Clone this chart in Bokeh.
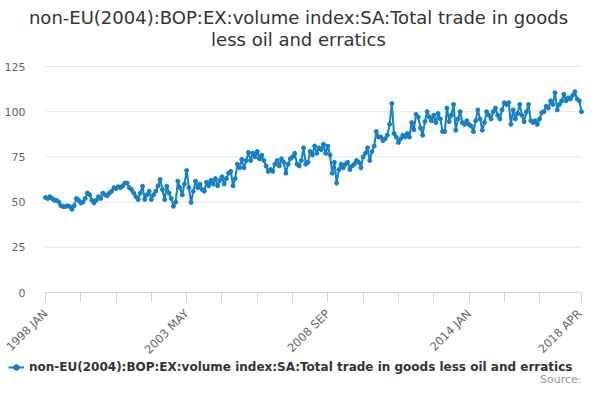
import math
from bokeh.plotting import figure
from bokeh.models import (FixedTicker, Legend, LegendItem, Range1d, Label,
                          LinearAxis)
from bokeh.embed import file_html
from bokeh.resources import INLINE

MONTHS = ["JAN", "FEB", "MAR", "APR", "MAY", "JUN",
          "JUL", "AUG", "SEP", "OCT", "NOV", "DEC"]

v1998 = [52.5, 52, 53, 52, 51, 51, 50, 48, 47.5, 47.5, 48, 47.5]
v1999 = [46, 48, 52, 51, 49.5, 50, 52, 55, 54, 51, 49.5, 51]
v2000 = [53, 52, 55, 54, 53.5, 55, 56, 58, 57.5, 58.5, 58, 59]
v2001 = [60.5, 60.5, 58, 57, 55, 53, 51.4, 55, 58.8, 51.5, 54, 56]
v2002 = [51.4, 54, 56, 59, 62.5, 57, 51.4, 58.8, 55, 52, 47.7, 50]
v2003 = [61.6, 58, 54, 60, 67.5, 58, 49.8, 56, 61.6, 58, 60, 57]
v2004 = [56, 61, 59, 62, 60, 63, 59, 62, 64, 60, 63, 66]
v2005 = [67, 59, 63, 71, 69, 73.6, 69, 73, 77.4, 73, 77, 75]
v2006 = [78, 74, 76, 73, 70, 67, 68, 67, 71, 73, 70, 74]
v2007 = [72, 66, 71, 74, 75, 77, 71, 70, 73, 80, 71, 72]
v2008 = [78, 76, 81, 77, 80, 79, 82, 77, 81, 76, 66, 72]
v2009 = [60.5, 68, 71, 69, 71, 72, 68, 70, 71, 73, 72, 69]
v2010 = [75, 77, 80, 73, 78, 81, 89, 86, 86, 84, 85, 87]
v2011 = [93, 104.5, 88, 86, 83, 85, 87, 86, 88, 86, 94, 90]
v2012 = [98.5, 97, 91, 87, 94.6, 100, 97, 95, 98, 94, 99, 96]
v2013 = [89, 89, 102, 94.5, 98, 104, 89.8, 96, 100, 94, 93, 95]
v2014 = [93, 92, 89, 95, 101, 96, 89.8, 94, 100, 98, 96, 100]
v2015 = [102, 98, 96, 101, 105, 104, 105, 93, 101, 96, 99, 104]
v2016 = [98, 94.5, 100, 104, 95, 94, 95, 93, 96, 99.5, 100, 103]
v2017 = [102, 106, 104, 110.5, 101, 104, 106, 109.6, 106, 107.7, 107, 109]
v2018 = [111, 107, 106, 100]

yearly = [v1998, v1999, v2000, v2001, v2002, v2003, v2004, v2005, v2006, v2007,
          v2008, v2009, v2010, v2011, v2012, v2013, v2014, v2015, v2016, v2017, v2018]
values = [v for yr in yearly for v in yr]
categories = [f"{1998 + i // 12} {MONTHS[i % 12]}" for i in range(len(values))]
xs = list(range(len(values)))

labelled = ["1998 JAN", "2003 MAY", "2008 SEP", "2014 JAN", "2018 APR"]
y_ticks = [0, 25, 50, 75, 100, 125]

TITLE1 = "non-EU(2004):BOP:EX:volume index:SA:Total trade in goods"
TITLE2 = "less oil and erratics"
SERIES = "non-EU(2004):BOP:EX:volume index:SA:Total trade in goods less oil and erratics"
COLOR = "#1380c8"
FONT = "DejaVu Sans"

# layout (figure pixels): whole figure is the frame
FIG_W, FIG_H = 584, 384
PL, PR, PT, PB = 45, 581, 66, 292
n_last = len(values) - 1
y_top = y_ticks[-1]
ppx = (PR - PL) / n_last
ppy = (PB - PT) / y_top
x_rng = Range1d(-PL / ppx, n_last + (FIG_W - PR) / ppx)
y_rng = Range1d(-(FIG_H - PB) / ppy, y_top + PT / ppy)

p = figure(width=FIG_W, height=FIG_H, output_backend="svg", toolbar_location=None,
           x_range=x_rng, y_range=y_rng, x_axis_location=None, y_axis_location=None,
           min_border=0)
p.outline_line_color = None
p.background_fill_color = "white"
p.xgrid.visible = False
p.ygrid.visible = False

# horizontal grid lines spanning the category extent only
p.segment(x0=[0] * len(y_ticks), x1=[n_last] * len(y_ticks), y0=y_ticks, y1=y_ticks,
          line_color="#e6e6e6", line_width=1)

# x axis fixed at y = 0
n = len(values)
tick_pos = list(range(0, n - 4, 16)) + [n_last]
xaxis = LinearAxis(fixed_location=0, bounds=(0, n_last))
xaxis.ticker = FixedTicker(ticks=tick_pos)
xaxis.major_label_overrides = {t: (categories[t] if categories[t] in labelled else "")
                               for t in tick_pos}
xaxis.major_label_orientation = math.pi / 4
xaxis.axis_line_color = "#ccd6eb"
xaxis.major_tick_line_color = "#ccd6eb"
xaxis.major_tick_out = 10
xaxis.major_tick_in = 0
xaxis.minor_tick_line_color = None
xaxis.major_label_text_color = "#666666"
xaxis.major_label_text_font = FONT
xaxis.major_label_text_font_size = "11.5px"
xaxis.major_label_standoff = 9
p.add_layout(xaxis, "below")

# y axis fixed at x = 0
yaxis = LinearAxis(fixed_location=0, bounds=(0, y_top))
yaxis.ticker = FixedTicker(ticks=y_ticks)
yaxis.axis_line_color = None
yaxis.major_tick_line_color = None
yaxis.minor_tick_line_color = None
yaxis.major_label_text_color = "#666666"
yaxis.major_label_text_font = FONT
yaxis.major_label_text_font_size = "11px"
yaxis.major_label_standoff = 14
p.add_layout(yaxis, "left")

ln = p.line(xs, values, line_color=COLOR, line_width=2)
sc = p.scatter(xs, values, size=4, fill_color=COLOR, line_color=COLOR)

# titles
for txt, ty in ((TITLE1, FIG_H - 17), (TITLE2, FIG_H - 39)):
    p.add_layout(Label(x=298, y=ty, x_units="screen", y_units="screen", text=txt,
                       text_align="center", text_baseline="middle",
                       text_font=FONT, text_font_size="18px",
                       text_color="#333333"))

# legend and source
legend = Legend(items=[LegendItem(label=SERIES, renderers=[ln, sc])],
                location=(8, 10), orientation="horizontal",
                label_text_font=FONT, label_text_font_size="12px",
                label_text_font_style="bold", label_text_color="#333333",
                border_line_color=None, background_fill_alpha=0,
                glyph_width=16, glyph_height=14, label_standoff=5,
                padding=0, margin=0)
p.add_layout(legend)
p.add_layout(Label(x=581, y=5.5, x_units="screen", y_units="screen",
                   text="Source:", text_align="right", text_baseline="middle",
                   text_font=FONT, text_font_size="11px", text_color="#999999"))

open("out.html", "w").write(file_html(p, INLINE))
